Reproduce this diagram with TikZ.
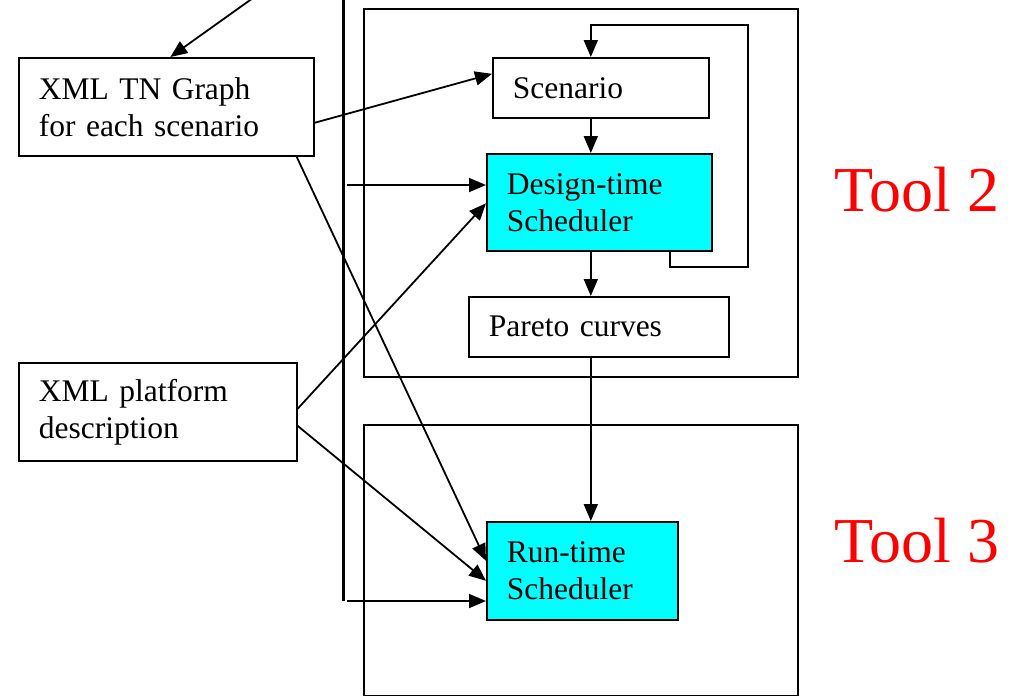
\documentclass[tikz,border=0pt]{standalone}
\usepackage{fontspec}
\setmainfont{Liberation Serif}
\usetikzlibrary{calc,arrows.meta}
\definecolor{schedcyan}{HTML}{00FFFF}
\definecolor{toolred}{HTML}{FF0000}
\begin{document}
\begin{tikzpicture}[x=1pt,y=-1pt,
  box/.style={draw,line width=1.6pt,rectangle,anchor=north west,
    inner xsep=20pt,inner ysep=0pt,align=left,
    font=\fontsize{31.5}{37}\selectfont},
  sched/.style={box,fill=schedcyan},
  frame/.style={draw,line width=1.6pt},
  conn/.style={line width=1.8pt,-{Triangle[length=17pt,width=14pt]}},
  bus/.style={line width=3pt},
  toollabel/.style={text=toolred,font=\fontsize{64}{70}\selectfont,inner sep=0pt}]
\useasboundingbox (0,0) rectangle (1011,697);

% tool frames
\draw[frame] (364,9) rectangle (798,377);
\draw[frame] (364,425) rectangle (798,695.5);
\node[toollabel] (t2) at (917,190) {Tool 2};
\node[toollabel] (t3) at (917,541) {Tool 3};

% input descriptions
\node[box,text width=255pt,minimum height=98pt] (tn) at (18,57)
  {XML TN Graph\\for each scenario};
\node[box,text width=238pt,minimum height=98pt] (plat) at (18,362)
  {XML platform\\description};

% tool 2 contents
\node[box,text width=176pt,minimum height=60pt] (sc) at (492,57)
  {\raisebox{-2pt}{Scenario}};
\node[sched,text width=185pt,minimum height=97pt] (ds) at (486,153)
  {Design-time\\Scheduler};
\node[box,text width=220pt,minimum height=60pt] (pc) at (468,296)
  {\raisebox{-2pt}{Pareto curves}};

% tool 3 contents
\node[sched,text width=151pt,minimum height=98pt] (rs) at (486,521)
  {Run-time\\Scheduler};

% incoming arrow from above
\coordinate (src) at (253,-2);
\draw[conn] (src) -- ($(tn.north)+(4,0)$);

% vertical bus
\coordinate (bustop) at (343,0);
\coordinate (busbot) at (343,601);
\draw[bus] (bustop) -- (busbot);
\coordinate (busA) at (347,185);
\coordinate (busB) at (347,601);
\draw[conn] (busA) -- (busA -| ds.west);
\draw[conn] (busB) -- (busB -| rs.west);

% flow inside tool 2
\coordinate (colA) at ($(sc.south)+(-10,0)$);
\draw[conn] (colA) -- (colA |- ds.north);
\coordinate (colB) at ($(ds.south)+(-8.5,0)$);
\draw[conn] (colB) -- (colB |- pc.north);
\coordinate (colC) at ($(pc.south)+(-8,0)$);
\draw[conn] (colC) -- (colC |- rs.north);

% iteration loop over scenarios
\coordinate (loopA) at ($(ds.south east)+(-43,0)$);
\draw[conn] (loopA) -- ++(0,15) -| (748,25) -| (colA |- sc.north);

% graph and platform inputs
\draw[conn] ($(tn.east)+(0,16)$) -- ($(sc.west)+(0,-14)$);
\draw[conn] ($(tn.south east)+(-18,0)$) -- ($(rs.west)+(0,-10)$);
\draw[conn] ($(plat.east)+(0,-3)$) -- ($(ds.west)+(0,1)$);
\draw[conn] ($(plat.east)+(0,14)$) -- ($(rs.west)+(0,10)$);
\end{tikzpicture}
\end{document}
